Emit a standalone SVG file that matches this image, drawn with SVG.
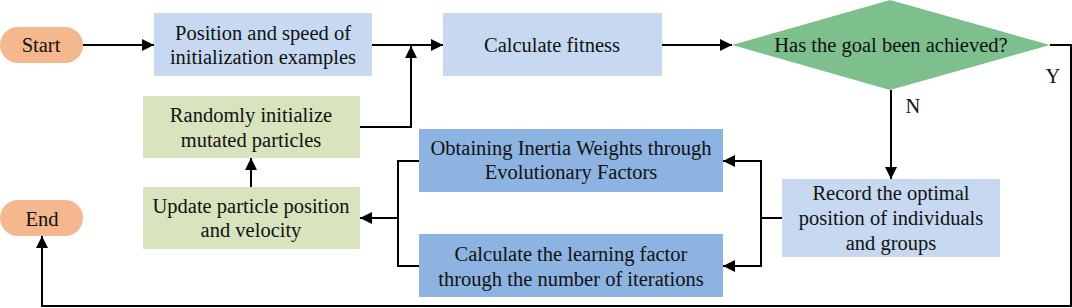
<svg xmlns="http://www.w3.org/2000/svg" width="1072" height="308" viewBox="0 0 1072 308">
<defs>
<marker id="ah" markerUnits="userSpaceOnUse" markerWidth="13" markerHeight="12" refX="12" refY="6" orient="auto">
<path d="M0,0 L12,6 L0,12 z" fill="#000"/>
</marker>
<style>
text{font-family:'Liberation Serif',serif;font-size:20.5px;fill:#111;text-anchor:middle}
.pill{fill:#F5B78E}
.lb{fill:#C6D9F1}
.gr{fill:#D7E4BD}
.db{fill:#8DB3E2}
.dia{fill:#7DBF8D}
.c{fill:none;stroke:#000;stroke-width:2}
.a{marker-end:url(#ah)}
</style>
</defs>
<g id="start"><rect class="pill" x="0" y="27" width="83" height="36" rx="18"/><text x="41" y="52">Start</text></g>
<g id="init"><rect class="lb" x="154" y="13" width="218" height="63"/><text x="263" y="39.5">Position and speed of</text><text x="263" y="64">initialization examples</text></g>
<g id="fitness"><rect class="lb" x="443" y="13" width="219" height="63"/><text x="552" y="52">Calculate fitness</text></g>
<g id="goal"><polygon class="dia" points="732,45 890,0 1050,45 890,90"/><text x="891" y="52">Has the goal been achieved?</text></g>
<g id="random"><rect class="gr" x="143" y="96" width="217" height="62"/><text x="251" y="122">Randomly initialize</text><text x="251" y="147">mutated particles</text></g>
<g id="update"><rect class="gr" x="143" y="187" width="217" height="62"/><text x="251" y="213">Update particle position</text><text x="251" y="237">and velocity</text></g>
<g id="end"><rect class="pill" x="0" y="200" width="83" height="36" rx="18"/><text x="42" y="226">End</text></g>
<g id="inertia"><rect class="db" x="419" y="129" width="304" height="63"/><text x="571" y="155">Obtaining Inertia Weights through</text><text x="571" y="179">Evolutionary Factors</text></g>
<g id="learning"><rect class="db" x="419" y="234" width="304" height="63"/><text x="571" y="261">Calculate the learning factor</text><text x="571" y="286">through the number of iterations</text></g>
<g id="record"><rect class="lb" x="782" y="179" width="218" height="78"/><text x="891" y="200">Record the optimal</text><text x="891" y="225">position of individuals</text><text x="891" y="250">and groups</text></g>
<g id="connectors">
<path class="c a" d="M83,45 H154"/>
<path class="c a" d="M372,45 H443"/>
<path class="c a" d="M360,127 H411 V46"/>
<path class="c a" d="M662,45 H732"/>
<path class="c a" d="M891,90 V179"/>
<path class="c a" d="M1050,45 H1071 V306 H42 V236"/>
<path class="c a" d="M782,218 H761 V161 H723"/>
<path class="c a" d="M761,218 V266 H723"/>
<path class="c" d="M419,161 H398 V266 H419"/>
<path class="c a" d="M398,218 H360"/>
<path class="c a" d="M251,187 V158"/>
<text x="913" y="113">N</text>
<text x="1053" y="83">Y</text>
</g>
</svg>
